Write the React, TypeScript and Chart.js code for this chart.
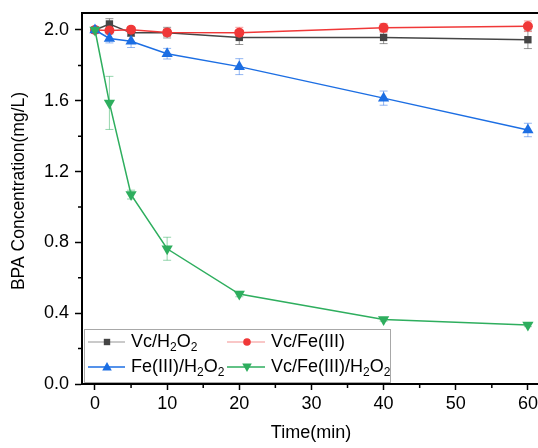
import React, { useEffect, useRef } from "react";
import { Chart, registerables } from "chart.js";

Chart.register(...registerables);

const timeMin = [0, 2, 5, 10, 20, 40, 60];
const vcH2O2 = [2.0, 2.034, 1.984, 1.985, 1.958, 1.958, 1.945];
const vcH2O2Err = [0.01, 0.03, 0.02, 0.03, 0.04, 0.035, 0.05];
const vcFe = [2.0, 1.997, 2.002, 1.986, 1.985, 2.012, 2.021];
const vcFeErr = [0.01, 0.01, 0.015, 0.02, 0.03, 0.025, 0.03];
const feH2O2 = [2.0, 1.952, 1.936, 1.866, 1.793, 1.615, 1.435];
const feH2O2Err = [0.01, 0.025, 0.035, 0.03, 0.045, 0.04, 0.038];
const vcFeH2O2 = [2.0, 1.588, 1.07, 0.764, 0.508, 0.365, 0.334];
const vcFeH2O2Err = [0.01, 0.15, 0.025, 0.065, 0.015, 0.01, 0.01];

const xTickLabels = [0, 10, 20, 30, 40, 50, 60];
const yTickLabels = [0.0, 0.4, 0.8, 1.2, 1.6, 2.0];

const FONT = "'Liberation Sans', Arial, sans-serif";

type Series = {
  label: string[]; // parts: even = normal, odd = subscript
  data: number[];
  err: number[];
  color: string;
  errColor: string;
  legendLine: string;
  style: string;
  rotation: number;
  radius: number;
  order: number;
};

const series: Series[] = [
  { label: ["Vc/H", "2", "O", "2"], data: vcH2O2, err: vcH2O2Err, color: "#454545", errColor: "rgba(80,80,80,0.6)", legendLine: "#b8b8b8", style: "rect", rotation: 0, radius: 5.2, order: 3 },
  { label: ["Vc/Fe(III)"], data: vcFe, err: vcFeErr, color: "#f03838", errColor: "rgba(240,60,60,0.5)", legendLine: "#f7b4b4", style: "circle", rotation: 0, radius: 5, order: 2 },
  { label: ["Fe(III)/H", "2", "O", "2"], data: feH2O2, err: feH2O2Err, color: "#1c6ee3", errColor: "rgba(40,110,230,0.5)", legendLine: "#1c6ee3", style: "triangle", rotation: 0, radius: 6.5, order: 1 },
  { label: ["Vc/Fe(III)/H", "2", "O", "2"], data: vcFeH2O2, err: vcFeH2O2Err, color: "#2eae5e", errColor: "rgba(46,174,94,0.5)", legendLine: "#2eae5e", style: "triangle", rotation: 180, radius: 6.5, order: 0 },
];

function drawMarker(ctx: CanvasRenderingContext2D, s: Series, x: number, y: number, r: number) {
  ctx.save();
  ctx.fillStyle = s.color;
  ctx.beginPath();
  if (s.style === "rect") {
    ctx.rect(x - r, y - r, 2 * r, 2 * r);
  } else if (s.style === "circle") {
    ctx.arc(x, y, r, 0, Math.PI * 2);
  } else {
    const dir = s.rotation === 180 ? -1 : 1;
    ctx.moveTo(x, y - dir * r);
    ctx.lineTo(x + r * 0.95, y + dir * r * 0.7);
    ctx.lineTo(x - r * 0.95, y + dir * r * 0.7);
    ctx.closePath();
  }
  ctx.fill();
  ctx.restore();
}

function drawRichText(ctx: CanvasRenderingContext2D, parts: string[], x: number, y: number) {
  let cx = x;
  parts.forEach((p, i) => {
    if (i % 2 === 0) {
      ctx.font = `18px ${FONT}`;
      ctx.fillText(p, cx, y);
    } else {
      ctx.font = `12px ${FONT}`;
      ctx.fillText(p, cx, y + 6);
    }
    cx += ctx.measureText(p).width;
  });
}

const customPlugin = {
  id: "custom",
  beforeDatasetsDraw(chart: any) {
    const ctx = chart.ctx as CanvasRenderingContext2D;
    const xs = chart.scales.x;
    const ys = chart.scales.y;
    ctx.save();
    series.forEach((s) => {
      ctx.strokeStyle = s.errColor;
      ctx.lineWidth = 1;
      s.data.forEach((v, i) => {
        const px = xs.getPixelForValue(timeMin[i]);
        const y1 = ys.getPixelForValue(v + s.err[i]);
        const y2 = ys.getPixelForValue(v - s.err[i]);
        ctx.beginPath();
        ctx.moveTo(px, y1);
        ctx.lineTo(px, y2);
        ctx.moveTo(px - 4, y1);
        ctx.lineTo(px + 4, y1);
        ctx.moveTo(px - 4, y2);
        ctx.lineTo(px + 4, y2);
        ctx.stroke();
      });
    });
    ctx.restore();
  },
  afterDraw(chart: any) {
    const ctx = chart.ctx as CanvasRenderingContext2D;
    const { left, right, top, bottom } = chart.chartArea;
    const xs = chart.scales.x;
    const ys = chart.scales.y;
    ctx.save();
    // top border
    ctx.strokeStyle = "#000";
    ctx.lineWidth = 2;
    ctx.beginPath();
    ctx.moveTo(left - 1, top);
    ctx.lineTo(right, top);
    ctx.stroke();
    // minor ticks
    ctx.lineWidth = 1.5;
    ctx.beginPath();
    for (let v = 5; v <= 60; v += 10) {
      const px = xs.getPixelForValue(v);
      ctx.moveTo(px, bottom);
      ctx.lineTo(px, bottom + 4);
    }
    for (let v = 0.2; v < 2.1; v += 0.4) {
      const py = ys.getPixelForValue(v);
      ctx.moveTo(left, py);
      ctx.lineTo(left - 4, py);
    }
    ctx.stroke();

    // axis titles
    ctx.fillStyle = "#000";
    ctx.font = `18px ${FONT}`;
    ctx.textAlign = "center";
    ctx.textBaseline = "middle";
    ctx.fillText("Time(min)", 311, 433);
    ctx.save();
    ctx.translate(19, 191);
    ctx.rotate(-Math.PI / 2);
    ctx.font = `17.5px ${FONT}`;
    ctx.fillText("BPA Concentration(mg/L)", 0, 0);
    ctx.restore();

    // legend
    const bx = 84, by = 329, bw = 306, bh = 53;
    ctx.fillStyle = "#fff";
    ctx.fillRect(bx, by, bw, bh);
    ctx.strokeStyle = "#a8a8a8";
    ctx.lineWidth = 1;
    ctx.strokeRect(bx + 0.5, by + 0.5, bw, bh);
    const cols = [{ l: 88, r: 125, m: 107, t: 131 }, { l: 227, r: 265, m: 247, t: 271 }];
    const rows = [342, 367];
    series.forEach((s, i) => {
      const c = cols[i % 2];
      const ry = rows[Math.floor(i / 2)];
      ctx.strokeStyle = s.legendLine;
      ctx.lineWidth = 1.5;
      ctx.beginPath();
      ctx.moveTo(c.l, ry);
      ctx.lineTo(c.r, ry);
      ctx.stroke();
      drawMarker(ctx, s, c.m, ry, s.style === "rect" ? 3.2 : s.style === "circle" ? 3.8 : 5);
      ctx.fillStyle = "#000";
      ctx.textAlign = "left";
      ctx.textBaseline = "middle";
      drawRichText(ctx, s.label, c.t, ry);
    });
    ctx.restore();
  },
};

export default function App() {
  const ref = useRef<HTMLCanvasElement | null>(null);
  useEffect(() => {
    if (!ref.current) return;
    const chart = new Chart(ref.current, {
      type: "line",
      data: {
        datasets: series.map((s) => ({
          label: s.label.join(""),
          data: s.data.map((v, i) => ({ x: timeMin[i], y: v })),
          borderColor: s.color,
          backgroundColor: s.color,
          borderWidth: 1.5,
          pointStyle: s.style as any,
          rotation: s.rotation,
          pointRadius: s.radius,
          pointBorderWidth: 0,
          pointBackgroundColor: s.color,
          order: s.order,
          tension: 0,
        })),
      },
      options: {
        animation: false,
        responsive: false,
        maintainAspectRatio: false,
        layout: { autoPadding: false, padding: { top: 13, left: 0, right: 0, bottom: 0 } },
        plugins: { legend: { display: false }, tooltip: { enabled: false } },
        scales: {
          x: {
            type: "linear",
            min: -1.8,
            max: 61.4,
            afterFit: (s: any) => { s.height = 64; s.paddingLeft = 0; s.paddingRight = 0; },
            afterBuildTicks: (s: any) => { s.ticks = xTickLabels.map((v) => ({ value: v })); },
            ticks: { font: { size: 18, family: FONT }, color: "#000", padding: 3, maxRotation: 0, autoSkip: false },
            grid: { drawOnChartArea: false, drawTicks: true, tickLength: 6, tickWidth: 1.5, tickColor: "#000" },
            border: { color: "#000", width: 2 },
          },
          y: {
            type: "linear",
            min: 0,
            max: 2.096,
            afterFit: (s: any) => { s.width = 82; s.paddingTop = 0; s.paddingBottom = 0; },
            afterBuildTicks: (s: any) => { s.ticks = yTickLabels.map((v) => ({ value: v })); },
            ticks: { font: { size: 18, family: FONT }, color: "#000", padding: 6, callback: (v: any) => Number(v).toFixed(1) },
            grid: { drawOnChartArea: false, drawTicks: true, tickLength: 7, tickWidth: 1.5, tickColor: "#000" },
            border: { color: "#000", width: 2 },
          },
        },
      },
      plugins: [customPlugin],
    });
    return () => chart.destroy();
  }, []);
  return (
    <div style={{ position: "fixed", left: 0, top: 0, width: 538, height: 448, background: "#fff" }}>
      <canvas ref={ref} width={538} height={448} style={{ width: 538, height: 448, display: "block" }} />
    </div>
  );
}
